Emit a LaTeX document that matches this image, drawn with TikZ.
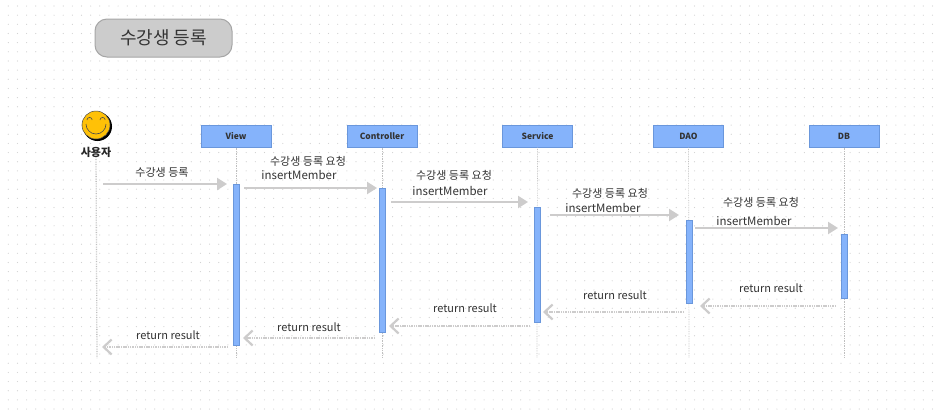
\documentclass[tikz,border=0pt]{standalone}
\usepackage{fontspec}
\setmainfont{Noto Sans CJK KR}
\usetikzlibrary{arrows.meta}
\definecolor{boxblue}{HTML}{85B3FB}
\definecolor{boxedge}{HTML}{6A97DC}
\definecolor{arrowgray}{HTML}{CDCCCC}
\definecolor{griddot}{HTML}{D2D2D2}
\definecolor{smileyellow}{HTML}{FFC107}
\begin{document}
\begin{tikzpicture}[
    x=1pt, y=-1pt,
    header/.style={draw=boxedge, fill=boxblue, line width=1pt, minimum width=70pt, minimum height=22pt, inner sep=0pt, font=\fontsize{8.5}{9}\selectfont\bfseries, text=black!80},
    bar/.style={draw=boxedge, fill=boxblue, line width=0.8pt, minimum width=6pt, inner sep=0pt},
    lifeline/.style={draw=black!25, line width=0.7pt, densely dotted},
    call/.style={draw=arrowgray, line width=2.2pt, -{Triangle[length=10pt,width=12pt]}},
    reply/.style={draw=arrowgray, line width=2.2pt, dash pattern=on 1.5pt off 0.8pt, -{Straight Barb[length=8pt,width=15pt]}},
    msg/.style={font=\fontsize{11}{11}\selectfont, text=black!80, inner sep=0pt},
    method/.style={font=\fontsize{11.5}{11}\selectfont, text=black!80, inner sep=0pt}
]
  \useasboundingbox (0,0) rectangle (935,416);
  \fill[white] (0,0) rectangle (935,416);

  % grid
  \foreach \i in {0,...,101}
    \foreach \j in {0,...,44}
      \fill[griddot] (8.3+9.15*\i,6+9.16*\j) circle (0.6pt);

  % title
  \node[draw=black!35, fill=black!20, rounded corners=12pt, line width=1pt, minimum width=137pt, minimum height=38pt, inner sep=0pt, font=\fontsize{18}{18}\selectfont, text=black!80] (title) at (163.5,38) {수강생 등록};

  % user
  \fill[black] (97.5,126.5) circle (14.5pt);
  \node[circle, draw=black!70, fill=smileyellow, line width=0.5pt, minimum size=28pt, inner sep=0pt] (smiley) at (96,125) {};
  \draw[black!70, line width=0.6pt] (87,120) arc (180:0:2.6pt);
  \draw[black!70, line width=0.6pt] (100,120) arc (180:0:2.6pt);
  \draw[black!70, line width=0.6pt] (86,124) arc (180:360:10pt);
  \node[font=\fontsize{11}{11}\selectfont\bfseries, text=black!85, inner sep=0pt] (user) at (96,152) {사용자};

  % headers
  \node[header] (view) at (236,136) {View};
  \node[header] (controller) at (382,136) {Controller};
  \node[header] (service) at (537.5,136) {Service};
  \node[header] (dao) at (688.5,136) {DAO};
  \node[header] (db) at (844,136) {DB};

  % lifelines
  \coordinate (userEnd) at (97,358);
  \coordinate (viewEnd) at (236,358);
  \coordinate (controllerEnd) at (382,358);
  \coordinate (serviceEnd) at (537,358);
  \coordinate (daoEnd) at (689,358);
  \coordinate (dbEnd) at (844,358);
  \draw[lifeline, line width=1.3pt] (user) -- (userEnd);
  \draw[lifeline] (view) -- (viewEnd);
  \draw[lifeline] (controller) -- (controllerEnd);
  \draw[lifeline] (service) -- (serviceEnd);
  \draw[lifeline] (dao) -- (daoEnd);
  \draw[lifeline] (db) -- (dbEnd);

  % activation bars
  \node[bar, minimum height=161pt] (viewBar) at (236,264.5) {};
  \node[bar, minimum height=144pt] (controllerBar) at (382,260) {};
  \node[bar, minimum height=115pt] (serviceBar) at (537.5,264.5) {};
  \node[bar, minimum height=83pt] (daoBar) at (689,261.5) {};
  \node[bar, minimum height=64pt] (dbBar) at (844,266) {};

  % calls
  \coordinate (c1a) at (103,184);   \coordinate (c1b) at (227,184);
  \coordinate (c2a) at (244,188);   \coordinate (c2b) at (377,188);
  \coordinate (c3a) at (391,202);   \coordinate (c3b) at (528,202);
  \coordinate (c4a) at (550,215);   \coordinate (c4b) at (679,215);
  \coordinate (c5a) at (695,228);   \coordinate (c5b) at (838,228);
  \draw[call] (c1a) -- (c1b);
  \draw[call] (c2a) -- (c2b);
  \draw[call] (c3a) -- (c3b);
  \draw[call] (c4a) -- (c4b);
  \draw[call] (c5a) -- (c5b);

  % replies
  \coordinate (r1a) at (836,306);   \coordinate (r1b) at (700,306);
  \coordinate (r2a) at (684,312);   \coordinate (r2b) at (543,312);
  \coordinate (r3a) at (530,326);   \coordinate (r3b) at (389,326);
  \coordinate (r4a) at (375,338);   \coordinate (r4b) at (243,338);
  \coordinate (r5a) at (228,347);   \coordinate (r5b) at (102,347);
  \draw[reply] (r1a) -- (r1b);
  \draw[reply] (r2a) -- (r2b);
  \draw[reply] (r3a) -- (r3b);
  \draw[reply] (r4a) -- (r4b);
  \draw[reply] (r5a) -- (r5b);

  % labels
  \node[msg] (m1) at (162,172) {수강생 등록};
  \node[msg] (m2) at (308,161) {수강생 등록 요청};
  \node[method] (m2b) at (299,175) {insertMember};
  \node[msg] (m3) at (454,175) {수강생 등록 요청};
  \node[method] (m3b) at (450,191) {insertMember};
  \node[msg] (m4) at (610,193) {수강생 등록 요청};
  \node[method] (m4b) at (603,208) {insertMember};
  \node[msg] (m5) at (761,202) {수강생 등록 요청};
  \node[method] (m5b) at (754,221) {insertMember};
  \node[msg] (r1) at (771,288) {return result};
  \node[msg] (r2) at (615,295) {return result};
  \node[msg] (r3) at (465,308) {return result};
  \node[msg] (r4) at (309,327) {return result};
  \node[msg] (r5) at (168,335) {return result};
\end{tikzpicture}
\end{document}
